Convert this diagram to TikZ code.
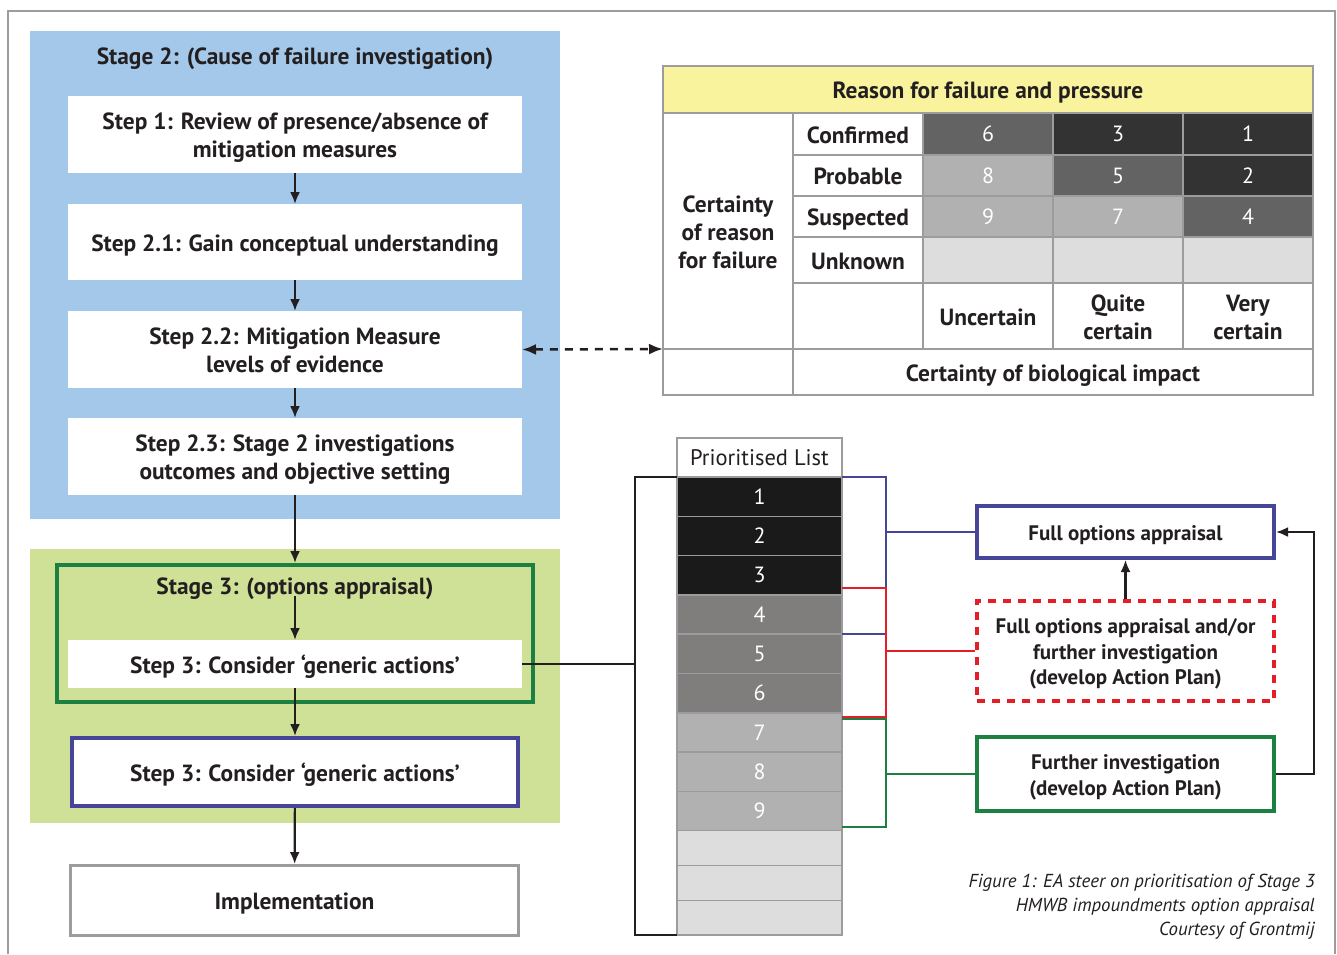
\documentclass[tikz,border=0pt]{standalone}
\usepackage{fontspec}
\setmainfont{PT Sans}
\usetikzlibrary{arrows.meta}

\definecolor{txtc}{HTML}{231F20}
\definecolor{stageblue}{HTML}{A3C8EA}
\definecolor{stagegreen}{HTML}{CFE197}
\definecolor{grn}{HTML}{1B8040}
\definecolor{blu}{HTML}{464598}
\definecolor{rd}{HTML}{E31E26}
\definecolor{yel}{HTML}{F9F39E}
\definecolor{frm}{HTML}{9C9C9E}
\definecolor{d1}{HTML}{333333}
\definecolor{d2}{HTML}{636363}
\definecolor{d3}{HTML}{B1B1B1}
\definecolor{d4}{HTML}{DDDDDD}
\definecolor{lk1}{HTML}{1A1A1A}
\definecolor{lk2}{HTML}{7F7E7D}

\begin{document}
\begin{tikzpicture}[x=1pt,y=-1pt,
  txt/.style={font=\bfseries\fontsize{23.4}{28}\selectfont, align=center, text=txtc, inner sep=0, outer sep=0, text height=20pt, text depth=1.6pt},
  two/.style={text height=48pt},
  three/.style={text height=76pt},
  small/.style={font=\bfseries\fontsize{21}{25.5}\selectfont, align=center, text=txtc, inner sep=0, text height=18pt, text depth=1.2pt},
  stwo/.style={text height=43.5pt},
  sthree/.style={text height=69pt},
  stepbox/.style={txt, fill=white, minimum width=454},
  listrow/.style={draw=frm, line width=1.5pt, minimum width=165, minimum height=39.3, inner sep=0, outer sep=0, text=white, font=\fontsize{22}{25}\selectfont},
  cell/.style={minimum width=130, inner sep=0, text=white, font=\fontsize{22}{25}\selectfont},
  arr/.style={line width=2.2pt, txtc, -{Latex[length=12pt,width=10pt]}},
  bracket/.style={line width=2pt}
]
\useasboundingbox (0,0) rectangle (1337,954);

% frame
\draw[frm, line width=1.5pt] (8,954) -- (8,11) -- (1335,11) -- (1335,954);

% Stage 2
\fill[stageblue] (30,31) rectangle (560,519);
\node[txt] (t2) at (295,55) {Stage 2: (Cause of failure investigation)};
\node[stepbox, two, minimum height=77] (s1) at (295,134.5) {Step 1: Review of presence/absence of\\mitigation measures};
\node[stepbox, minimum height=76] (s21) at (295,242) {Step 2.1: Gain conceptual understanding};
\node[stepbox, two, minimum height=77] (s22) at (295,349.5) {Step 2.2: Mitigation Measure\\levels of evidence};
\node[stepbox, two, minimum height=77] (s23) at (295,456.5) {Step 2.3: Stage 2 investigations\\outcomes and objective setting};

% Stage 3
\fill[stagegreen] (30,549) rectangle (560,823);
\node[draw=grn, line width=4pt, minimum width=476, minimum height=137, inner sep=0, outer sep=2pt] (stg3) at (295,633.5) {};
\node[txt, minimum height=22] (t3) at (295,585) {Stage 3: (options appraisal)};
\node[stepbox, minimum height=48] (s3a) at (295,664) {Step 3: Consider `generic actions'};
\node[stepbox, draw=blu, line width=4pt, minimum width=446, minimum height=68, outer sep=2pt] (s3b) at (295,772) {Step 3: Consider `generic actions'};
\node[stepbox, draw=frm, line width=3pt, minimum width=448, minimum height=70, outer sep=1.5pt] (impl) at (294.5,900.5) {Implementation};

\draw[arr] (s1) -- (s21);
\draw[arr] (s21) -- (s22);
\draw[arr] (s22) -- (s23);
\draw[arr] (s23) -- (stg3);
\draw[arr] (t3) -- (s3a);
\draw[arr] (s3a) -- (s3b);
\draw[arr] (s3b) -- (impl);

% table
\fill[yel] (663,66) rectangle (1313,113);
\foreach \cx/\cy/\h/\c/\n [count=\k] in {988/134/42/d2/6, 1118/134/42/d1/3, 1248/134/42/d1/1,
    988/175.5/41/d3/8, 1118/175.5/41/d2/5, 1248/175.5/41/d1/2,
    988/216.5/41/d3/9, 1118/216.5/41/d3/7, 1248/216.5/41/d2/4,
    988/260/46/d4/{}, 1118/260/46/d4/{}, 1248/260/46/d4/{}}
  \node[cell, fill=\c, minimum height=\h] (c\k) at (\cx,\cy) {\n};
\draw[frm, line width=2pt] (663,66) rectangle (1313,395);
\draw[frm, line width=2pt] (663,113) -- (1313,113) (663,349) -- (1313,349);
\foreach \yy in {155,196,237,283}
  \draw[frm, line width=2pt] (793,\yy) -- (1313,\yy);
\draw[frm, line width=2pt] (793,113) -- (793,395);
\foreach \xx in {923,1053,1183}
  \draw[frm, line width=2pt] (\xx,113) -- (\xx,349);

\node[txt] (thead) at (988,89) {Reason for failure and pressure};
\node[txt, three] (lcert) at (728,231) {Certainty\\of reason\\for failure};
\node[txt] (lconf) at (858,134) {Confirmed};
\node[txt] (lprob) at (858,175) {Probable};
\node[txt] (lsusp) at (858,216) {Suspected};
\node[txt] (lunkn) at (858,260) {Unknown};
\node[txt] (aunc) at (988,316) {Uncertain};
\node[txt, two] (aqc) at (1118,316) {Quite\\certain};
\node[txt, two] (avc) at (1248,316) {Very\\certain};
\node[txt] (lbio) at (1053,372) {Certainty of biological impact};
\coordinate (tbl) at (663,349);

\draw[line width=2.5pt, txtc, dash pattern=on 8pt off 7pt, {Latex[length=14pt,width=11pt]}-{Latex[length=14pt,width=11pt]}] (s22.east) -- (tbl);

% prioritised list
\node[draw=frm, line width=1.5pt, fill=white, minimum width=165, minimum height=40, inner sep=0, outer sep=0, text=txtc, font=\fontsize{22.5}{25}\selectfont] (lhead) at (759.5,458) {Prioritised List};
\foreach \i/\c in {1/lk1,2/lk1,3/lk1,4/lk2,5/lk2,6/lk2,7/d3,8/d3,9/d3}
  \node[listrow, fill=\c] (r\i) at (759.5,{457.35+\i*39.3}) {\i};
\foreach \i in {10,11,12}
  \node[listrow, fill=d4, minimum height=34.8] (r\i) at (759.5,{830.7+(\i-9.5)*34.8}) {};

% bracket to Step 3
\coordinate (brk) at (635,664);
\draw[bracket, txtc] (r1.north west) -- ++(-42,0) |- (r12.south west);
\draw[bracket, txtc] (s3a.east) -- (brk);

% boxes on the right
\node[small, draw=blu, line width=4pt, minimum width=297, minimum height=52, outer sep=2pt] (fullopt) at (1125.5,532) {Full options appraisal};
\node[small, sthree, draw=rd, line width=4pt, dash pattern=on 8pt off 7pt, minimum width=297, minimum height=100, outer sep=2pt] (mixed) at (1125.5,651) {Full options appraisal and/or\\further investigation\\(develop Action Plan)};
\node[small, stwo, draw=grn, line width=4pt, minimum width=297, minimum height=74, outer sep=2pt] (further) at (1125.5,774) {Further investigation\\(develop Action Plan)};

% brackets from the list
\draw[bracket, blu] (r1.north east) -- ++(44,0) |- (r4.south east);
\draw[bracket, blu] (fullopt.west) -- (fullopt.west -| 886,0);
\draw[bracket, rd] ([yshift=7pt]r4.north east) -- ++(44,0) |- ([yshift=-4pt]r6.south east);
\draw[bracket, rd] (mixed.west) -- (mixed.west -| 886,0);
\draw[bracket, grn] ([yshift=-6pt]r7.north east) -- ++(44,0) |- ([yshift=4pt]r9.south east);
\draw[bracket, grn] (further.west) -- (further.west -| 886,0);

\draw[arr] (mixed) -- (fullopt);
\draw[arr] (further.east) -- ++(38,0) |- (fullopt.east);

% caption
\node[anchor=east, align=right, text=txtc, inner sep=0, font=\itshape\fontsize{18.8}{24}\selectfont] (cap) at (1315,907) {Figure 1: EA steer on prioritisation of Stage 3\\HMWB impoundments option appraisal\\Courtesy of Grontmij};

\end{tikzpicture}
\end{document}
